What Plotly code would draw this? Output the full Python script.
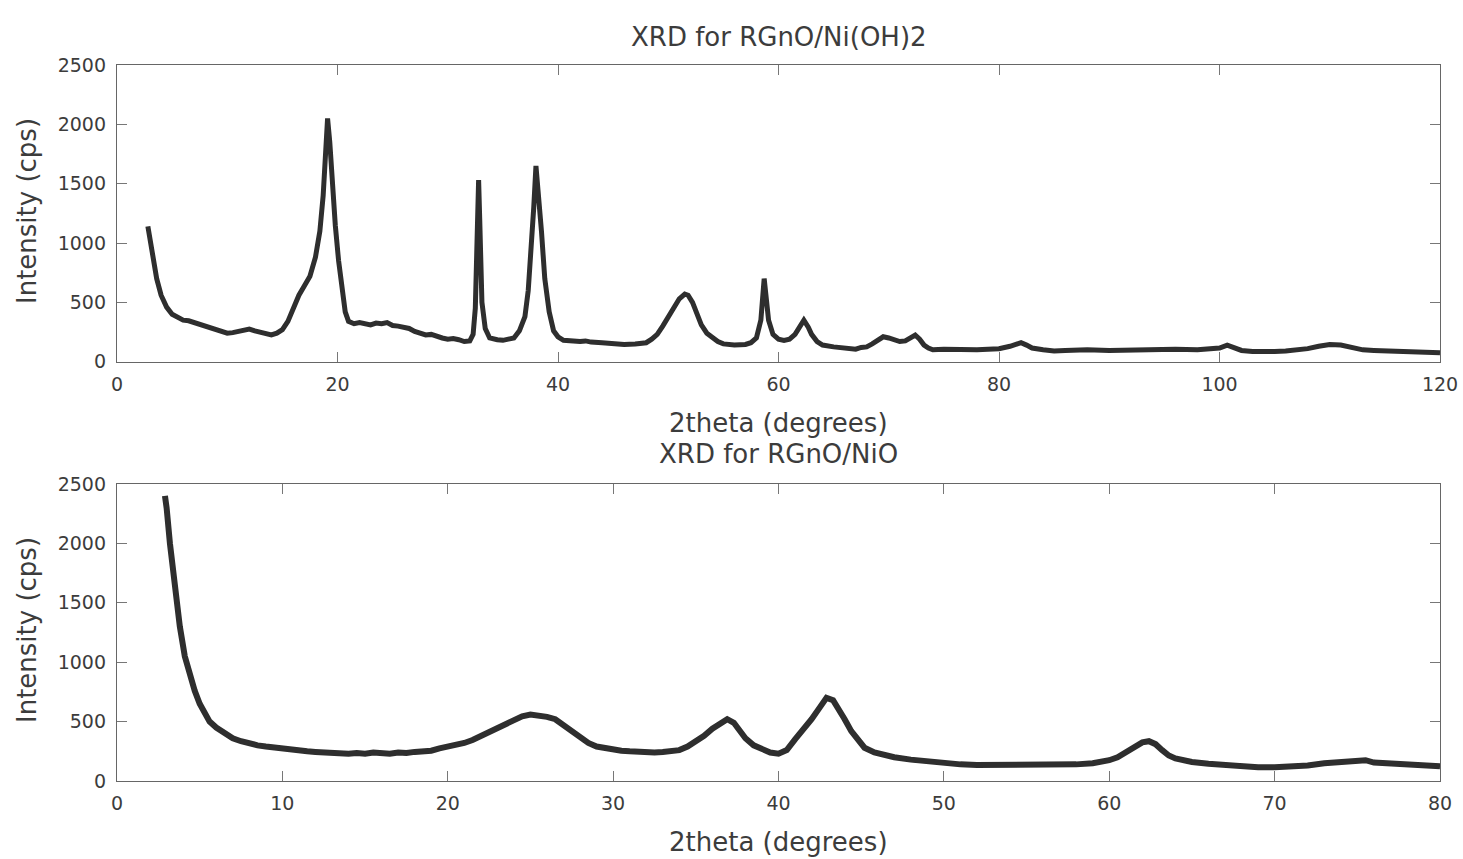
import plotly.graph_objects as go

# ---------------- data ----------------
top_x = [2.8, 3.0, 3.3, 3.6, 4.0, 4.5, 5.0, 5.5, 6.0, 6.5, 7.0, 7.5, 8.0, 8.5, 9.0, 9.5,
         10.0, 10.5, 11.0, 11.5, 12.0, 12.5, 13.0, 13.5, 14.0, 14.5, 15.0, 15.5, 16.0, 16.5,
         17.0, 17.5, 18.0, 18.4, 18.7, 18.9, 19.1, 19.3, 19.5, 19.8, 20.1, 20.4, 20.7, 21.0,
         21.5, 22.0, 22.5, 23.0, 23.5, 24.0, 24.5, 25.0, 25.5, 26.0, 26.5, 27.0, 27.5, 28.0,
         28.5, 29.0, 29.5, 30.0, 30.5, 31.0, 31.5, 32.0, 32.3, 32.5, 32.7, 32.8, 32.9, 33.1,
         33.4, 33.8, 34.5, 35.0, 35.5, 36.0, 36.5, 37.0, 37.3, 37.6, 37.8, 38.0, 38.2, 38.5,
         38.8, 39.2, 39.6, 40.0, 40.5, 41.0, 41.5, 42.0, 42.5, 43.0, 44.0, 45.0, 46.0, 47.0,
         48.0, 48.5, 49.0, 49.5, 50.0, 50.5, 51.0, 51.5, 51.8, 52.2, 52.6, 53.0, 53.5, 54.0,
         54.5, 55.0, 56.0, 57.0, 57.5, 58.0, 58.4, 58.7, 58.9, 59.1, 59.5, 60.0, 60.5, 61.0,
         61.5, 62.0, 62.3, 62.7, 63.0, 63.5, 64.0, 65.0, 66.0, 67.0, 67.5, 68.0, 68.5, 69.0,
         69.5, 70.0, 70.5, 71.0, 71.5, 72.0, 72.4, 72.8, 73.2, 73.6, 74.0, 75.0, 76.0, 77.0,
         78.0, 79.0, 80.0, 81.0, 81.5, 82.0, 82.5, 83.0, 84.0, 85.0, 86.0, 87.0, 88.0, 90.0,
         92.0, 94.0, 96.0, 98.0, 100.0, 100.7, 101.4, 102.0, 103.0, 104.0, 105.0, 106.0,
         107.0, 108.0, 109.0, 110.0, 111.0, 112.0, 113.0, 114.0, 116.0, 118.0, 120.0]
top_y = [1140, 1020, 850, 700, 560, 460, 400, 370, 350, 345, 330, 320, 300, 290, 265, 255,
         240, 245, 255, 270, 275, 260, 245, 230, 225, 240, 270, 340, 460, 560,
         640, 720, 880, 1100, 1400, 1700, 2050, 1850, 1550, 1150, 850, 600, 420, 340,
         320, 330, 320, 310, 325, 320, 330, 305, 300, 290, 280, 255, 240, 225,
         230, 210, 200, 190, 195, 185, 170, 175, 230, 450, 1200, 1530, 1200, 500,
         280, 200, 185, 180, 190, 200, 260, 380, 600, 950, 1300, 1650, 1450, 1100,
         700, 420, 260, 210, 180, 175, 180, 170, 175, 165, 160, 150, 145, 150,
         160, 190, 230, 300, 380, 470, 530, 570, 560, 500, 400, 310, 240, 200,
         170, 150, 140, 145, 160, 200, 350, 700, 550, 350, 230, 190, 180, 190,
         230, 300, 350, 290, 230, 170, 140, 125, 110, 105, 120, 125, 150, 180,
         210, 200, 180, 170, 175, 200, 225, 190, 140, 115, 100, 105, 100, 95,
         100, 105, 110, 130, 150, 160, 140, 115, 100, 90, 95, 100, 100, 95,
         100, 105, 105, 100, 115, 140, 110, 95, 85, 80, 85, 90,
         95, 110, 130, 145, 140, 120, 100, 95, 85, 80, 75]

bot_x = [2.9, 3.0, 3.2, 3.4, 3.6, 3.8, 4.1, 4.4, 4.7, 5.0, 5.3, 5.6, 6.0, 6.5, 7.0, 7.5,
         8.0, 8.5, 9.0, 9.5, 10.0, 10.5, 11.0, 11.5, 12.0, 12.5, 13.0, 13.5, 14.0, 14.5,
         15.0, 15.5, 16.0, 16.5, 17.0, 17.5, 18.0, 18.5, 19.0, 19.5, 20.0, 20.5, 21.0, 21.5,
         22.0, 22.5, 23.0, 23.5, 24.0, 24.5, 25.0, 25.5, 26.0, 26.5, 27.0, 27.5, 28.0, 28.5,
         29.0, 29.5, 30.0, 30.5, 31.0, 31.5, 32.0, 32.5, 33.0, 33.5, 34.0, 34.5, 35.0, 35.5,
         36.0, 36.5, 36.9, 37.3, 37.7, 38.0, 38.5, 39.0, 39.5, 40.0, 40.5, 41.0, 41.5, 42.0,
         42.5, 42.9, 43.3, 43.7, 44.0, 44.4, 44.8, 45.2, 45.8, 46.5, 47.0, 48.0, 49.0, 50.0,
         51.0, 52.0, 53.0, 54.0, 55.0, 56.0, 57.0, 58.0, 59.0, 59.6, 60.0, 60.5, 61.0, 61.5,
         62.0, 62.4, 62.8, 63.2, 63.6, 64.0, 64.5, 65.0, 66.0, 67.0, 68.0, 69.0, 70.0, 71.0,
         72.0, 73.0, 74.0, 75.0, 75.5, 76.0, 77.0, 78.0, 79.0, 80.0]
bot_y = [2400, 2300, 2000, 1750, 1500, 1300, 1050, 880, 760, 650, 570, 500, 450, 400, 360, 335,
         315, 300, 290, 280, 270, 265, 255, 250, 245, 240, 235, 240, 230, 235,
         230, 240, 235, 230, 240, 235, 245, 250, 255, 275, 290, 300, 320, 345,
         380, 410, 445, 480, 520, 545, 560, 555, 540, 520, 470, 410, 360, 320,
         290, 275, 260, 255, 250, 245, 245, 240, 245, 250, 260, 290, 330, 380,
         440, 490, 520, 490, 420, 360, 300, 270, 240, 230, 260, 350, 430, 520,
         620, 700, 680, 600, 520, 420, 340, 280, 240, 210, 200, 180, 165, 150,
         140, 135, 135, 130, 135, 135, 140, 140, 150, 160, 175, 200, 240, 290,
         325, 335, 310, 260, 215, 190, 170, 160, 145, 135, 120, 115, 115, 120,
         130, 150, 160, 165, 175, 155, 150, 140, 140, 125]

top_xticks = [0, 20, 40, 60, 80, 100, 120]
bot_xticks = [0, 10, 20, 30, 40, 50, 60, 70, 80]
yticks = [0, 500, 1000, 1500, 2000, 2500]

top_title = "XRD for RGnO/Ni(OH)2"
bot_title = "XRD for RGnO/NiO"
x_title = "2theta (degrees)"
y_title = "Intensity (cps)"

# ---------------- figure ----------------
W, H = 1463, 859
ML, MR, MT, MB = 117, 23, 65, 78
PW, PH = W - ML - MR, H - MT - MB


def px_to_paper_y(py):
    return (H - MB - py) / PH


def px_to_paper_x(px):
    return (px - ML) / PW


FONT = "DejaVu Sans"
TXT = "#3c3c3c"
LINE = "#2e2e2e"

fig = go.Figure()
fig.add_trace(go.Scatter(x=top_x, y=top_y, mode="lines", xaxis="x", yaxis="y",
                         line=dict(color=LINE, width=5), showlegend=False))
fig.add_trace(go.Scatter(x=bot_x, y=bot_y, mode="lines", xaxis="x2", yaxis="y2",
                         line=dict(color=LINE, width=6), showlegend=False))

axis_common = dict(showgrid=False, zeroline=False, showline=True, linecolor="#666666",
                   linewidth=1.3, mirror="ticks", ticks="inside", ticklen=10,
                   tickcolor="#777777", tickwidth=1, automargin=False,
                   tickfont=dict(family=FONT, size=19, color=TXT))

top_dom = [px_to_paper_y(361.7), 1.0]
bot_dom = [0.0, px_to_paper_y(484)]

fig.update_layout(
    width=W, height=H,
    margin=dict(l=ML, r=MR, t=MT, b=MB),
    paper_bgcolor="white", plot_bgcolor="white",
    xaxis=dict(axis_common, range=[0, 120], tickvals=top_xticks, anchor="y",
               domain=[0, 1], ticklabelstandoff=5),
    yaxis=dict(axis_common, range=[0, 2500], tickvals=yticks, anchor="x",
               domain=top_dom, ticklabelstandoff=6),
    xaxis2=dict(axis_common, range=[0, 80], tickvals=bot_xticks, anchor="y2",
                domain=[0, 1], ticklabelstandoff=5),
    yaxis2=dict(axis_common, range=[0, 2500], tickvals=yticks, anchor="x2",
                domain=bot_dom, ticklabelstandoff=6),
)

ann_font = dict(family=FONT, size=26, color=TXT)
annotations = [
    dict(text=top_title, x=0.5, y=px_to_paper_y(37)),
    dict(text=bot_title, x=0.5, y=px_to_paper_y(454)),
    dict(text=x_title, x=0.5, y=px_to_paper_y(423)),
    dict(text=x_title, x=0.5, y=px_to_paper_y(842)),
    dict(text=y_title, x=px_to_paper_x(27), y=px_to_paper_y(211), textangle=-90),
    dict(text=y_title, x=px_to_paper_x(27), y=px_to_paper_y(630), textangle=-90),
]
for a in annotations:
    a.update(xref="paper", yref="paper", showarrow=False, font=ann_font,
             xanchor="center", yanchor="middle")
fig.update_layout(annotations=annotations)

fig.write_html("out.html", config={"displayModeBar": False},
               post_script="document.body.style.margin='0';document.body.style.overflow='hidden';")
